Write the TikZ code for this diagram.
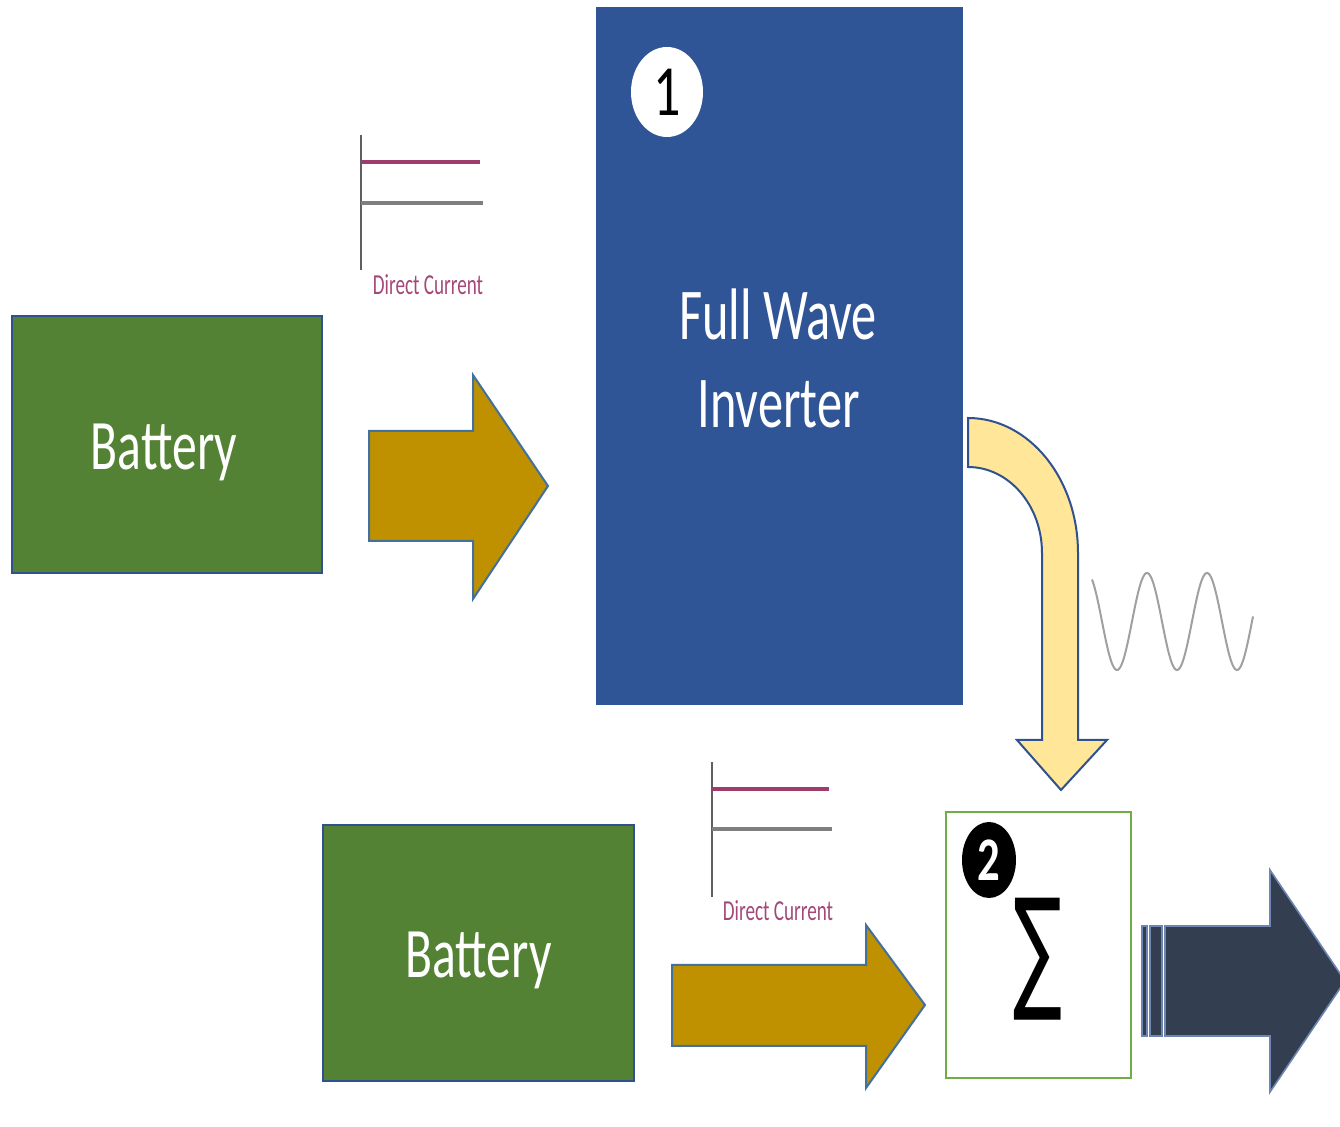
\documentclass[tikz,border=0pt]{standalone}
\usepackage{fontspec}
\setmainfont{Carlito}
\newfontfamily\djv{DejaVu Sans}
\usetikzlibrary{shapes.geometric}
\definecolor{batgreen}{HTML}{548235}
\definecolor{edgeblue}{HTML}{2F528F}
\definecolor{invblue}{HTML}{2F5597}
\definecolor{gold}{HTML}{BF9000}
\definecolor{goldedge}{HTML}{41719C}
\definecolor{paleyellow}{HTML}{FFE699}
\definecolor{slate}{HTML}{333F50}
\definecolor{dcmag}{HTML}{9E3D6C}
\definecolor{dctext}{HTML}{A3497A}
\definecolor{axisgray}{HTML}{5F5F5F}
\definecolor{linegray}{HTML}{7F7F7F}
\definecolor{wavegray}{HTML}{A0A0A0}
\definecolor{sumgreen}{HTML}{70AD47}
\tikzset{
  batterybox/.style={draw=edgeblue, line width=1pt, fill=batgreen, inner sep=0pt},
  invbox/.style={fill=invblue, inner sep=0pt},
  sumbox/.style={draw=sumgreen, line width=1pt, fill=white, inner sep=0pt},
  bigtext/.style={text=white, inner sep=0pt, font=\fontsize{35.5}{40}\selectfont},
  dclabel/.style={text=dctext, inner sep=0pt, font=\fontsize{14.5}{16}\selectfont},
  dcaxis/.style={draw=axisgray, line width=1.4pt},
  dcsig/.style={draw=dcmag, line width=2pt},
  dczero/.style={draw=linegray, line width=1.6pt},
  blockarrow/.style={line width=1pt, line join=miter},
}
\begin{document}
\begin{tikzpicture}[x=0.5pt, y=-0.5pt]
\useasboundingbox (0,0) rectangle (1340,1127);
\fill[white] (0,0) rectangle (1340,1127);

% Boxes
\node[batterybox, minimum width=155pt, minimum height=128.5pt] (bat1) at (167,444.5) {};
\node[batterybox, minimum width=155.5pt, minimum height=128pt] (bat2) at (478.5,953) {};
\node[invbox, minimum width=183.5pt, minimum height=349pt] (inv) at (779.5,356) {};
\node[sumbox, minimum width=92.5pt, minimum height=133pt] (sum) at (1038.5,945) {};

% Box texts
\node[bigtext, anchor=base] (bat1t) at (164,470) {\scalebox{0.7}[1]{Battery}};
\node[bigtext, anchor=base] (bat2t) at (478.5,978) {\scalebox{0.7}[1]{Battery}};
\node[bigtext, anchor=base, font=\fontsize{36.5}{40}\selectfont] (invt1) at (778,340) {\scalebox{0.69}[1]{Full Wave}};
\node[bigtext, anchor=base, font=\fontsize{36.5}{40}\selectfont] (invt2) at (778.5,428) {\scalebox{0.69}[1]{Inverter}};

% Number badges
\node[ellipse, fill=white, minimum width=36pt, minimum height=45pt, inner sep=0pt,
      font=\fontsize{36}{40}\selectfont] (n1) at (667,92) {\scalebox{0.75}[1]{1}};
\node[ellipse, fill=black, minimum width=27pt, minimum height=38pt, inner sep=0pt,
      text=white, font=\bfseries\fontsize{31}{36}\selectfont] (n2) at (989,860) {\scalebox{0.72}[1]{2}};
\node[inner sep=0pt] (sigma) at (1037.5,959) {\resizebox*{24.5pt}{61pt}{\djv ∑}};

% Direct current graph 1
\coordinate (a1t) at (361,135); \coordinate (a1b) at (361,270);
\coordinate (s1l) at (361,162); \coordinate (s1r) at (480,162);
\coordinate (z1l) at (361,203); \coordinate (z1r) at (483,203);
\draw[dcaxis] (a1t) -- (a1b);
\draw[dcsig] (s1l) -- (s1r);
\draw[dczero] (z1l) -- (z1r);
\node[dclabel, anchor=base] (dc1) at (428,295) {\scalebox{0.66}[1]{Direct Current}};

% Direct current graph 2
\coordinate (a2t) at (712,762); \coordinate (a2b) at (712,897);
\coordinate (s2l) at (712,789); \coordinate (s2r) at (829,789);
\coordinate (z2l) at (712,829); \coordinate (z2r) at (832,829);
\draw[dcaxis] (a2t) -- (a2b);
\draw[dcsig] (s2l) -- (s2r);
\draw[dczero] (z2l) -- (z2r);
\node[dclabel, anchor=base] (dc2) at (778,921) {\scalebox{0.66}[1]{Direct Current}};

% Gold block arrow 1
\draw[blockarrow, draw=goldedge, fill=gold]
  (369,431) -- (473,431) -- (473,375) -- (548,486) -- (473,599) -- (473,541) -- (369,541) -- cycle;

% Gold block arrow 2
\draw[blockarrow, draw=goldedge, fill=gold]
  (672,965) -- (866,965) -- (866,925) -- (925,1005) -- (866,1088) -- (866,1046) -- (672,1046) -- cycle;

% Curved yellow arrow
\draw[blockarrow, draw=edgeblue, fill=paleyellow]
  (968,418) .. controls (1028.8,418) and (1078,478.4) .. (1078,553)
  -- (1078,740) -- (1107,740) -- (1061,790) -- (1017,740) -- (1042,740)
  -- (1042,553) .. controls (1042,505.5) and (1008.9,467) .. (968,467) -- cycle;

% Sine wave
\draw[wavegray, line width=1pt] plot[domain=1092:1253, samples=160, smooth]
  (\x, {621.5 + 48.5*cos(6*(\x-1117))});

% Dark output arrow
\draw[blockarrow, draw=edgeblue!70, fill=slate, line width=0.8pt] (1142,926) rectangle (1147,1036);
\draw[blockarrow, draw=edgeblue!70, fill=slate, line width=0.8pt] (1150,926) rectangle (1162,1036);
\draw[blockarrow, draw=edgeblue!70, fill=slate, line width=0.8pt]
  (1165,926) -- (1270,926) -- (1270,870) -- (1345,981) -- (1270,1092) -- (1270,1036) -- (1165,1036) -- cycle;
\end{tikzpicture}
\end{document}
